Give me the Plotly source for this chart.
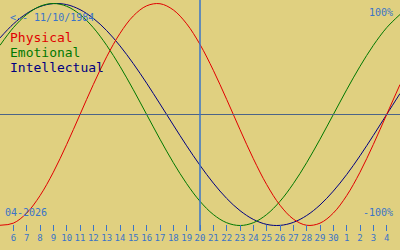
import pandas as pd
import plotly.graph_objects as go

# Dates shown (5 Apr 2026 .. 5 May 2026)
dates = pd.date_range("2026-04-05", "2026-05-05", freq="D")
tick_dates = pd.date_range("2026-04-06", "2026-05-04", freq="D")
tick_labels = [str(d.day) for d in tick_dates]

physical = [-99.8, -97.9, -88.8, -73.1, -52.0, -27.0, 0, 27.0, 52.0, 73.1, 88.8, 97.9, 99.8,
            94.2, 81.7, 63.1, 39.8, 13.6, -13.6, -39.8, -63.1, -81.7, -94.2, -99.8, -97.9,
            -88.8, -73.1, -52.0, -27.0, 0, 27.0]
emotional = [62.3, 78.2, 90.1, 97.5, 100, 97.5, 90.1, 78.2, 62.3, 43.4, 22.3, 0, -22.3, -43.4,
             -62.3, -78.2, -90.1, -97.5, -100, -97.5, -90.1, -78.2, -62.3, -43.4, -22.3, 0,
             22.3, 43.4, 62.3, 78.2, 90.1]
intellectual = [69.0, 81.5, 91.0, 97.2, 99.9, 99.0, 94.5, 86.6, 75.6, 61.8, 45.8, 28.2, 9.5,
                -9.5, -28.2, -45.8, -61.8, -75.6, -86.6, -94.5, -99.0, -99.9, -97.2, -91.0,
                -81.5, -69.0, -54.1, -37.2, -18.9, 0, 18.9]

today = "2026-04-20"
birth_text = "<-- 11/10/1984"
month_text = "04-2026"

BG = "#e0d080"
BLUE = "#3a74c8"
FONT = "DejaVu Sans Mono"

fig = go.Figure()
for name, vals, col in [("Intellectual", intellectual, "#000080"),
                        ("Emotional", emotional, "#007800"),
                        ("Physical", physical, "#e00000")]:
    fig.add_trace(go.Scatter(x=dates, y=vals, mode="lines", name=name,
                             line=dict(color=col, width=1, shape="spline"),
                             hoverinfo="skip"))

fig.add_shape(type="line", xref="paper", yref="y", x0=0, x1=1, y0=0, y1=0,
              line=dict(color="#4c6488", width=1))
fig.add_shape(type="line", xref="x", yref="paper", x0=today, x1=today, y0=0, y1=1,
              line=dict(color=BLUE, width=1.5))

H = 231.0
def py(px):
    return 1 - px / H

def ann(text, x, ypx, color, size, xanchor="left"):
    fig.add_annotation(text=text, xref="paper", yref="paper", x=x, y=py(ypx),
                       xanchor=xanchor, yanchor="middle", showarrow=False,
                       font=dict(family=FONT, size=size, color=color))

ann(birth_text, 8 / 400, 17, BLUE, 10)
ann("Physical", 8 / 400, 38, "#e00000", 13)
ann("Emotional", 8 / 400, 52, "#007800", 13)
ann("Intellectual", 8 / 400, 67, "#000080", 13)
ann("100%", 395 / 400, 12, BLUE, 10, "right")
ann("-100%", 395 / 400, 212, BLUE, 10, "right")
ann(month_text, 3 / 400, 212, BLUE, 10)

fig.update_layout(
    width=400, height=250, margin=dict(l=0, r=0, t=0, b=19),
    paper_bgcolor=BG, plot_bgcolor=BG, showlegend=False,
    xaxis=dict(range=["2026-04-05", "2026-05-05"], tickvals=tick_dates, ticktext=tick_labels,
               ticks="inside", ticklen=6, tickcolor=BLUE, tickwidth=1, tickangle=0,
               showgrid=False, zeroline=False, showline=False,
               tickfont=dict(family=FONT, size=9, color=BLUE)),
    yaxis=dict(range=[-104.95, 103.15], visible=False, showgrid=False, zeroline=False),
)
fig.write_html("out.html")
